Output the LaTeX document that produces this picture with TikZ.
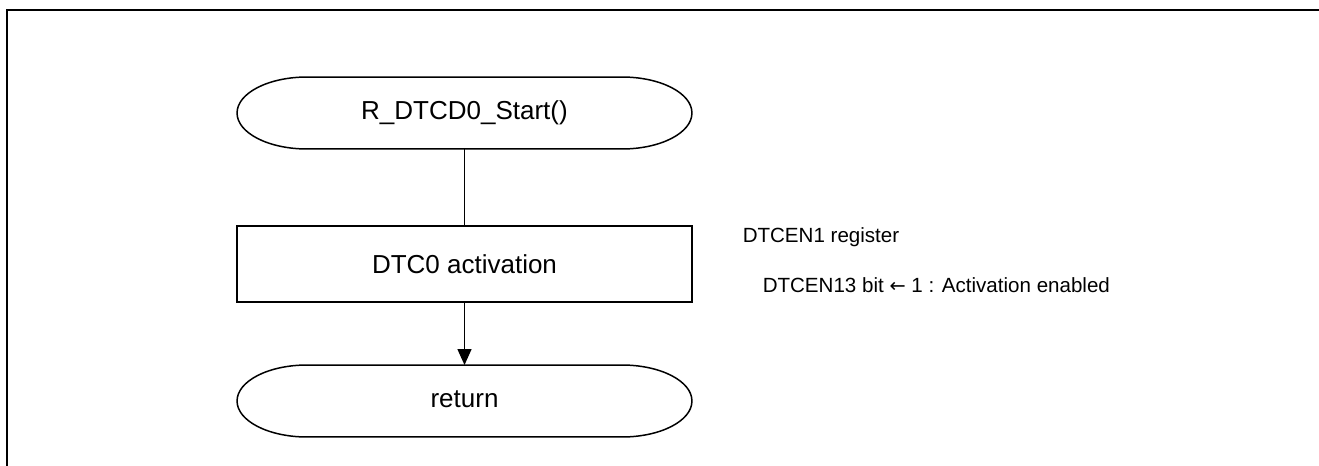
\documentclass[tikz,border=0pt]{standalone}
\usepackage{fontspec}
\setmainfont{Liberation Sans}
\newfontfamily\dvsans{DejaVu Sans}
\usetikzlibrary{arrows.meta}
\begin{document}
\begin{tikzpicture}[x=0.02cm,y=-0.02cm,
  line width=0.85pt,
  term/.style={minimum width=9.1cm,minimum height=1.44cm,inner sep=0pt,outer sep=0pt,font=\fontsize{14.8}{17}\selectfont},
  procbox/.style={draw,minimum width=9.1cm,minimum height=1.52cm,inner sep=0pt,outer sep=0pt,font=\fontsize{14.8}{17}\selectfont},
  note/.style={anchor=west,inner sep=0pt,font=\fontsize{11.7}{14}\selectfont},
  flow/.style={-{Triangle[length=0.32cm,width=0.28cm]}}]
\useasboundingbox (0,0) rectangle (1319,466);
\draw[line width=1.3pt] (7,466) -- (7,10) -- (1319,10);
% nodes
\node[term] (start) at (464.5,113) {\raisebox{2pt}{R\_DTCD0\_Start()}};
\node[procbox] (act) at (464.5,264) {DTC0 activation};
\node[term] (ret) at (464.5,401) {\raisebox{2pt}{return}};
\foreach \n in {start,ret}{
  \draw ([xshift=1.4cm]\n.north west) -- ([xshift=-1.4cm]\n.north east)
    arc[start angle=90,end angle=-90,x radius=1.4cm,y radius=0.72cm]
    -- ([xshift=1.4cm]\n.south west)
    arc[start angle=270,end angle=90,x radius=1.4cm,y radius=0.72cm] -- cycle;
}
\node[note] (n1) at (742,237) {DTCEN1 register};
\node[note] (n2) at (762,285) {DTCEN13 bit {\dvsans\fontsize{11}{14}\selectfont ←} 1 : Activation enabled};
% connectors
\draw (start) -- (act);
\draw[flow] (act) -- (ret);
\end{tikzpicture}
\end{document}
